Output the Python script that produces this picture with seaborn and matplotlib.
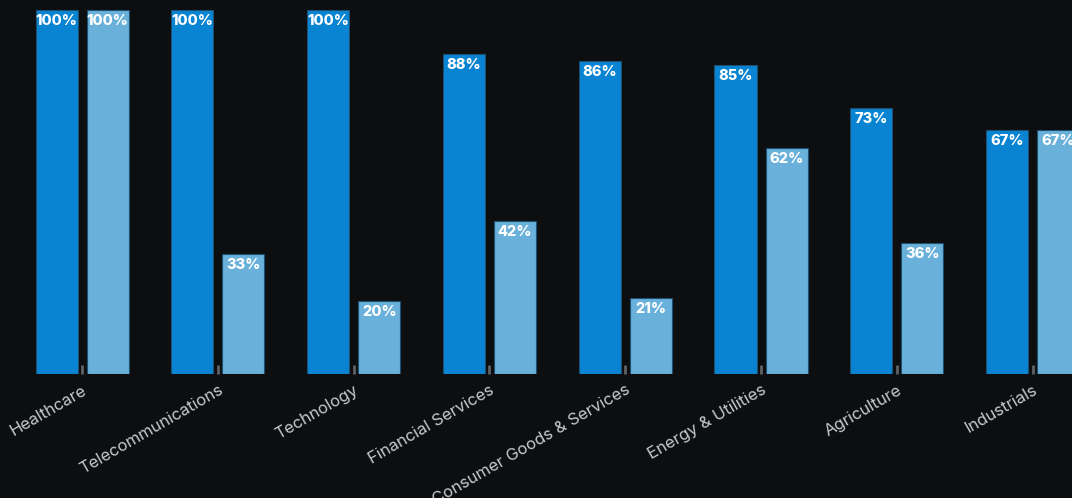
import matplotlib
matplotlib.use("Agg")
import matplotlib.pyplot as plt
import seaborn as sns
import pandas as pd
from matplotlib.transforms import offset_copy

categories = ["Healthcare", "Telecommunications", "Technology", "Financial Services",
              "Consumer Goods & Services", "Energy & Utilities", "Agriculture", "Industrials"]
series_names = ["Series A", "Series B"]
values_a = [100, 100, 100, 88, 86, 85, 73, 67]
values_b = [100, 33, 20, 42, 21, 62, 36, 67]

df = pd.DataFrame({
    "category": categories * 2,
    "series": [series_names[0]] * len(categories) + [series_names[1]] * len(categories),
    "value": values_a + values_b,
})

BG = "#0d0e10"
sns.set_theme(style="dark")
plt.rcParams["font.family"] = ["Inter", "DejaVu Sans"]

fig = plt.figure(figsize=(10.72, 4.98), dpi=100, facecolor=BG)
ax = fig.add_axes([0, 124 / 498, 1, 374 / 498])
ax.set_facecolor(BG)

sns.barplot(data=df, x="category", y="value", hue="series", order=categories,
            hue_order=series_names, palette=["#0884d2", "#69b1da"],
            width=0.752, gap=0.176, edgecolor="#1d4f70", linewidth=0.8,
            legend=False, ax=ax, saturation=1)

ax.set_xlim(-0.605, 7.29)
ax.set_ylim(0, 102.75)

for container in ax.containers:
    for bar in container:
        h = bar.get_height()
        cx = bar.get_x() + bar.get_width() / 2
        ax.text(cx, h, f"{h:.0f}%", ha="center", va="top", color="white",
                fontsize=10.5, fontweight="heavy",
                transform=offset_copy(ax.transData, fig=fig, x=0, y=-4, units="dots"))

for s in ax.spines.values():
    s.set_visible(False)
ax.set_xlabel("")
ax.set_ylabel("")
ax.set_yticks([])
ax.tick_params(axis="x", direction="in", length=6.5, width=2, color="#5f6266",
               pad=6, labelsize=12, labelcolor="#c5c9ce", bottom=True)
for lbl in ax.get_xticklabels():
    lbl.set_rotation(30)
    lbl.set_ha("right")
    lbl.set_rotation_mode("anchor")
ax.grid(False)

fig.savefig("out.png", dpi=100, facecolor=BG)
